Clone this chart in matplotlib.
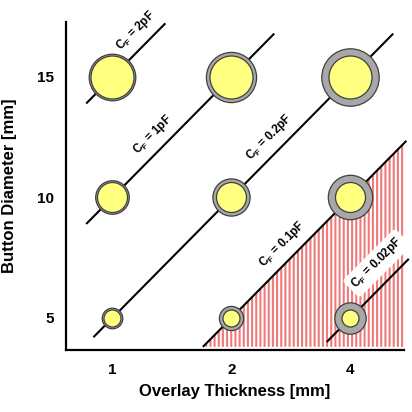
import numpy as np
import matplotlib
matplotlib.use("Agg")
import matplotlib.pyplot as plt

# =============================================================================
# DATOS
# =============================================================================

overlay_labels = ["1", "2", "4"]          # grosor del recubrimiento [mm]
overlay_ring = [1.0, 2.0, 4.0]            # grosor relativo del anillo gris
diametros = [5, 10, 15]                   # diametro del boton [mm]

# lineas de capacidad constante: (etiqueta, punto de paso x, y, x inicio, x fin, x etiqueta)
lineas_cf = ["2pF", "1pF", "0.2pF", "0.1pF", "0.02pF"]
lineas_x0 = [0, 0, 0, 1, 2]
lineas_y0 = [15, 10, 5, 5, 5]
lineas_xa = [-0.22, -0.22, -0.16, 0.76, 1.80]
lineas_xb = [0.445, 1.36, 2.36, 2.47, 2.49]
lineas_xt = [0.29, 0.43, 1.41, 1.52, 2.34]
PENDIENTE = 5.0

plt.rcParams['font.family'] = ['Liberation Sans', 'DejaVu Sans']
plt.rcParams['font.weight'] = 'bold'
plt.rcParams['mathtext.fontset'] = 'custom'
plt.rcParams['mathtext.rm'] = 'Liberation Sans:bold'
plt.rcParams['mathtext.it'] = 'Liberation Sans:bold'
plt.rcParams['mathtext.bf'] = 'Liberation Sans:bold'
plt.rcParams['hatch.linewidth'] = 1.5

fig = plt.figure(figsize=(4.12, 4.12), dpi=100)
ax = fig.add_axes([66 / 412, 62 / 412, 338 / 412, 328 / 412])
ax.set_xlim(-0.39, 2.45)
ax.set_ylim(3.67, 17.28)

# -------------------------------------------------
# zona rayada (C_F < 0.1pF)
# -------------------------------------------------
y_bot = 3.8
x_ini = lineas_x0[3] + (y_bot - lineas_y0[3]) / PENDIENTE
x_fin = 2.45
ax.fill([x_ini, x_fin, x_fin], [y_bot, lineas_y0[3] + PENDIENTE * (x_fin - lineas_x0[3]), y_bot],
        facecolor="white", edgecolor="#f07a7a", hatch="||||", linewidth=0, zorder=1)

# -------------------------------------------------
# lineas
# -------------------------------------------------
for i, nombre in enumerate(lineas_cf):
    xs = np.array([lineas_xa[i], lineas_xb[i]])
    ys = lineas_y0[i] + PENDIENTE * (xs - lineas_x0[i])
    ax.plot(xs, ys, color="black", lw=1.5, zorder=2, clip_on=False, solid_capstyle="butt")
    xt = lineas_xt[i]
    yt = lineas_y0[i] + PENDIENTE * (xt - lineas_x0[i])
    caja = None
    off = 8
    if nombre == "0.02pF":
        caja = dict(boxstyle="round,pad=0.35", fc="white", ec="none")
        off = 10
    ax.annotate(r"C$_{\mathrm{F}}$ = " + nombre, (xt, yt), xytext=(-off, off),
                textcoords="offset points", rotation=45, rotation_mode="anchor",
                ha="center", va="center", fontsize=8.5, fontweight="bold",
                bbox=caja, zorder=3)

# -------------------------------------------------
# botones
# -------------------------------------------------
for j, ring in enumerate(overlay_ring):
    for d in diametros:
        interior = 2.6 * d + 4          # px
        exterior = interior + 2 * 1.8 * ring
        ax.scatter([j], [d], s=(exterior * 0.72) ** 2, facecolor="#a8a8a8",
                   edgecolor="#404040", linewidths=0.9, zorder=4)
        ax.scatter([j], [d], s=(interior * 0.72) ** 2, facecolor="#ffff80",
                   edgecolor="#404040", linewidths=0.9, zorder=5)

# -------------------------------------------------
# ejes
# -------------------------------------------------
ax.set_xticks(range(len(overlay_labels)))
ax.set_xticklabels(overlay_labels)
ax.set_yticks(diametros)
ax.tick_params(length=0, labelsize=11, pad=9)
for s in ["top", "right"]:
    ax.spines[s].set_visible(False)
for s in ["left", "bottom"]:
    ax.spines[s].set_linewidth(1.6)

ax.set_xlabel("Overlay Thickness [mm]", fontsize=12, fontweight="bold", va="center")
ax.xaxis.set_label_coords(0.5, -0.128)
ax.set_ylabel("Button Diameter [mm]", fontsize=12, fontweight="bold", va="center")
ax.yaxis.set_label_coords(-0.166, 0.5)

fig.savefig("out.png", dpi=100)
